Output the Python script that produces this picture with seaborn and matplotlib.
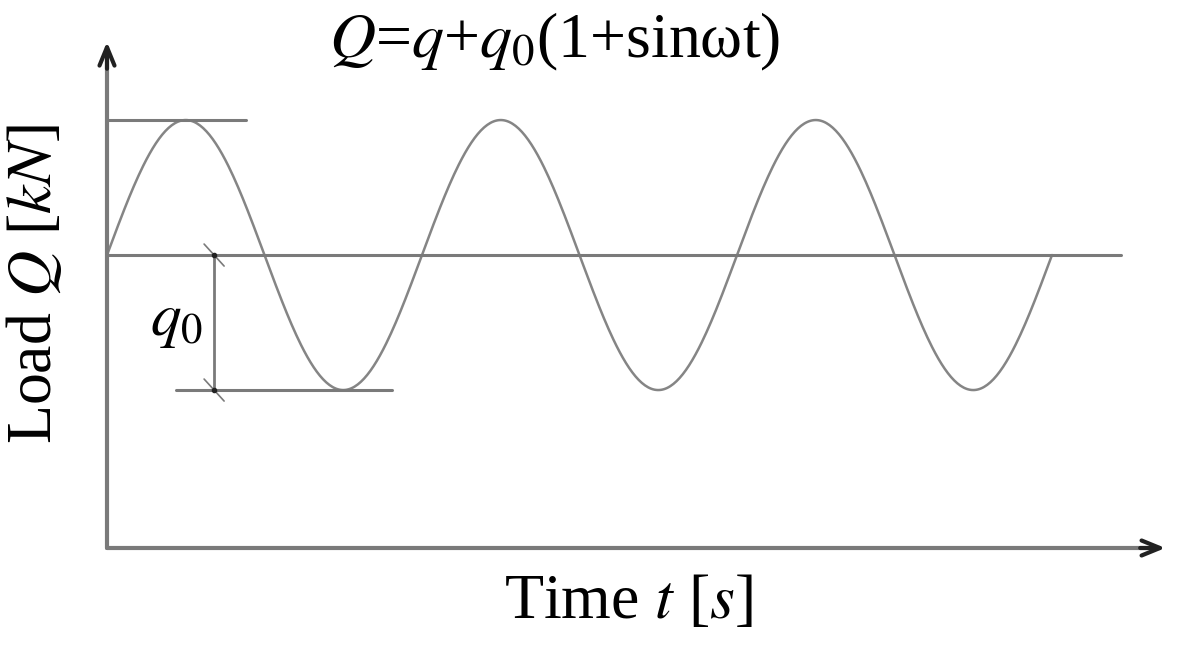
import numpy as np
import pandas as pd
import matplotlib
matplotlib.use("Agg")
import matplotlib.pyplot as plt
import seaborn as sns

# load parameters (arbitrary units, q0 = 1)
q_base = 1.17        # q
q_amp = 1.0          # q0
period = 1.0         # one cycle of sin(wt)
n_cycles = 3
t_axis_end = 3.36
q_axis_end = 3.75
mean_line_end = 3.22
top_line = [0.0, 0.44]      # t range of the peak marker line
bottom_line = [0.22, 0.905] # t range of the trough marker line
dim_t = 0.34                # t of the q0 dimension line

# curve Q = q + q0(1 + sin wt)
t = np.linspace(0, n_cycles * period, 600)
df = pd.DataFrame({"t": t, "Q": q_base + q_amp * (1 + np.sin(2 * np.pi * t / period))})
q_mean = q_base + q_amp

sns.set_theme(style="white")
plt.rcParams["font.family"] = ["Liberation Serif", "DejaVu Serif"]
plt.rcParams["mathtext.fontset"] = "stix"
plt.rcParams["text.color"] = "black"

fig = plt.figure(figsize=(11.84, 6.51), dpi=100)
ax = fig.add_axes([0, 0, 1, 1])
ax.set_xlim(-107 / 315, (1184 - 107) / 315)
ax.set_ylim((548 - 651) / 135, 548 / 135)
ax.axis("off")

line_col = "#7a7a7a"
sns.lineplot(data=df, x="t", y="Q", ax=ax, color="#858585", lw=1.8)

# axes with arrows
ax.plot([0, t_axis_end - 0.03], [0, 0], color=line_col, lw=3)
ax.plot([0, 0], [0, q_axis_end - 0.1], color=line_col, lw=3)
arrow = dict(arrowstyle="->,head_length=1.1,head_width=0.45",
             color="#222222", lw=3, shrinkA=0, shrinkB=0)
ax.annotate("", xy=(t_axis_end, 0), xytext=(t_axis_end - 0.08, 0), arrowprops=arrow)
ax.annotate("", xy=(0, q_axis_end), xytext=(0, q_axis_end - 0.2), arrowprops=arrow)

# reference lines
ax.plot([0, mean_line_end], [q_mean, q_mean], color=line_col, lw=2.2)
ax.plot(top_line, [q_mean + q_amp] * 2, color=line_col, lw=2.2)
ax.plot(bottom_line, [q_mean - q_amp] * 2, color=line_col, lw=2.2)

# q0 dimension
ax.plot([dim_t, dim_t], [q_mean, q_mean - q_amp], color=line_col, lw=2)
for qy in (q_mean, q_mean - q_amp):
    ax.plot([dim_t - 10 / 315, dim_t + 10 / 315], [qy + 11 / 135, qy - 11 / 135],
            color=line_col, lw=1.2)
    ax.plot([dim_t], [qy], marker="o", ms=3, color="#222222")
ax.text(dim_t - 0.035, q_mean - q_amp / 2, "$q_0$", fontsize=44,
        ha="right", va="center")

fig.text(555 / 1184, 1 - 42 / 651, "$Q$=$q$+$q_0$(1+sinωt)", fontsize=46,
         ha="center", va="center")
fig.text(35 / 1184, 1 - 284 / 651, "Load $Q$ [$kN$]", fontsize=46,
         rotation=90, ha="center", va="center")
fig.text(629 / 1184, 1 - 603 / 651, "Time $t$ [$s$]", fontsize=46,
         ha="center", va="center")

fig.savefig("out.png", dpi=100, facecolor="white")
